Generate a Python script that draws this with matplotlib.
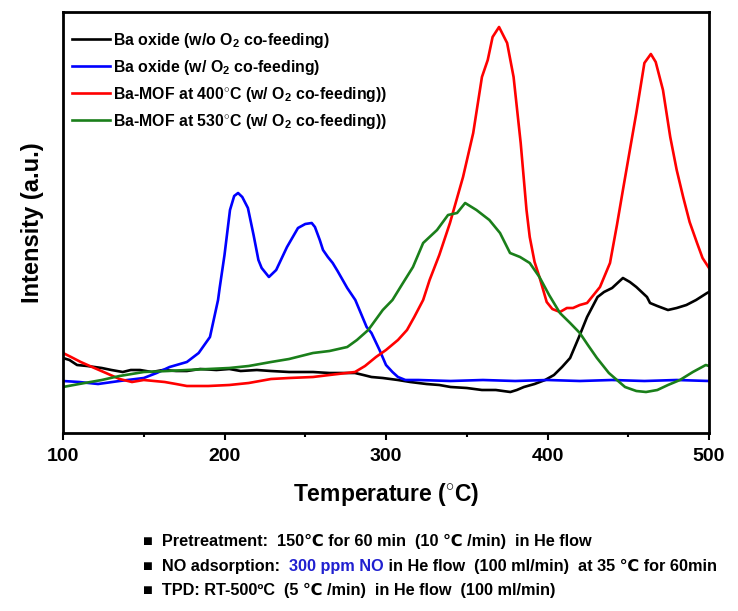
import matplotlib
matplotlib.use("Agg")
import matplotlib.pyplot as plt
import numpy as np

plt.rcParams['font.family'] = ['Liberation Sans', 'DejaVu Sans']
plt.rcParams['mathtext.fontset'] = 'custom'
plt.rcParams['mathtext.rm'] = 'Liberation Sans:bold'
plt.rcParams['mathtext.bf'] = 'Liberation Sans:bold'
plt.rcParams['mathtext.it'] = 'Liberation Sans:bold'

# ---- data (temperature in degC, intensity in a.u.) ----
Y0 = 433  # helper: intensity = Y0 - trace reading
black_T = [100, 104, 108.7, 115, 124, 130, 137, 142, 147.7, 155, 162, 170, 176.7, 185, 195, 203, 210, 220,
           228.8, 240, 254.8, 265, 275, 280.8, 286, 291, 298, 307.4, 315, 325, 333, 340, 350, 359.4, 368,
           377, 381, 385.4, 392, 398.5, 404, 409, 414, 419.5, 424.5, 431, 435, 440, 446.7, 451, 455, 461.6,
           463.5, 468, 474.6, 480, 486, 492, 498.8, 500]
black_r = [358, 360, 365, 366, 368, 370, 372, 370, 370, 372, 370, 371, 371, 369, 370, 369, 371, 370,
           371, 372, 372, 373, 373, 373, 375, 377, 378, 380, 382, 384, 385, 387, 388, 390, 390,
           392, 390, 387, 384, 380, 375, 367, 358, 337, 317, 297, 292, 288, 278, 282, 287, 297,
           303, 306, 310, 308, 305, 300, 293, 292]

blue_T = [100, 110, 121.7, 135, 150, 158, 166, 176.7, 184, 191, 196, 197, 200, 203.4, 206, 208.4, 211,
          214.5, 218, 221, 223, 227.5, 232, 238.7, 245.5, 250, 254, 256, 259, 261, 264, 267, 270, 276,
          281, 288, 291, 296, 300, 304, 307.4, 312, 320, 340, 360, 380, 400, 420, 440, 460, 480, 500]
blue_r = [381, 382, 384, 381, 378, 373, 367, 362, 353, 337, 300, 288, 255, 210, 196, 193, 197,
          208, 235, 260, 268, 277, 270, 247, 228, 224, 223, 227, 240, 250, 257, 263, 271, 288,
          300, 327, 333, 350, 365, 372, 377, 380, 380, 381, 380, 381, 380, 381, 380, 381, 380, 381]

red_T = [100, 105, 111, 118, 126.6, 135, 142.7, 150, 163, 170, 176.7, 190, 203, 215, 228.8, 240, 254.8,
         265, 280.8, 287, 293.8, 300, 307.4, 313, 317.5, 323, 327, 333, 339.6, 347.7, 354, 359.4, 363,
         366, 370, 375, 379, 383.4, 387, 389, 392, 395, 399.5, 403, 407.7, 412, 415.8, 420, 424.5, 428,
         432.5, 438.7, 443, 446.7, 451, 455, 460, 464, 467, 471.5, 476, 480, 484, 488, 492.6, 496, 500]
red_r = [353, 357, 362, 367, 373, 379, 382, 380, 382, 384, 386, 386, 385, 383, 379, 378, 377,
         375, 372, 366, 357, 350, 340, 330, 317, 300, 280, 255, 223, 177, 133, 77, 60,
         37, 27, 43, 77, 143, 210, 237, 262, 277, 302, 309, 312, 308, 308, 305, 303, 296,
         287, 263, 225, 190, 150, 113, 63, 54, 62, 90, 137, 170, 197, 222, 243, 258, 268]

green_T = [100, 110, 124, 135, 150, 165, 176.7, 190, 203, 215, 228.8, 240, 254.8, 265, 276, 282, 289,
           298, 304, 310.5, 316.7, 323, 331.6, 338.4, 344, 349, 356, 364, 370.6, 376.8, 383, 389, 395,
           401, 407.7, 414, 420, 425, 430.6, 438, 448, 455, 461, 468, 474.6, 482, 490, 498, 500]
green_r = [387, 384, 380, 376, 372, 371, 370, 369, 368, 366, 362, 359, 353, 351, 347, 340, 330,
           310, 300, 283, 267, 243, 230, 215, 213, 203, 210, 220, 233, 253, 257, 263, 277,
           295, 313, 323, 333, 345, 358, 373, 387, 391, 392, 390, 385, 380, 372, 365, 366]

labels = [r'Ba oxide (w/o O$_2$ co-feeding)',
          r'Ba oxide (w/ O$_2$ co-feeding)',
          r'Ba-MOF at 400$^{\circ}$C (w/ O$_2$ co-feeding))',
          r'Ba-MOF at 530$^{\circ}$C (w/ O$_2$ co-feeding))']
colors = ['#000000', '#0000ff', '#ff0000', '#1a7f1a']
x_ticks = [100, 200, 300, 400, 500]

series = [(black_T, black_r), (blue_T, blue_r), (red_T, red_r), (green_T, green_r)]

fig = plt.figure(figsize=(7.38, 6.11), dpi=100)
ax = fig.add_axes([63/738, 1-433/611, (709-63)/738, (433-12)/611])

for (T, r), c, lab in zip(series, colors, labels):
    ax.plot(T, Y0 - np.array(r), color=c, lw=1.9, label=lab)

ax.set_xlim(100, 500)
ax.set_ylim(0, 421)
ax.set_xticks(x_ticks)
ax.set_xticks([150, 250, 350, 450], minor=True)
ax.set_yticks([])
ax.tick_params(axis='x', which='major', direction='out', length=5, width=1.5, labelsize=14, pad=6)
ax.tick_params(axis='x', which='minor', direction='out', length=3, width=1.5)
for lbl in ax.get_xticklabels():
    lbl.set_fontweight('bold')
for s in ax.spines.values():
    s.set_linewidth(2.0)

ax.set_xlabel(r'Temperature ($^{\circ}$C)', fontsize=16.5, fontweight='bold', labelpad=11)
ax.set_ylabel('Intensity (a.u.)', fontsize=17, fontweight='bold', labelpad=14)

leg = ax.legend(loc='upper left', frameon=False, prop={'size': 11.4, 'weight': 'bold'},
                handlelength=2.4, handletextpad=0.2, labelspacing=0.5,
                bbox_to_anchor=(9/646, 0.955), borderaxespad=0, borderpad=0)

# ---- notes below the chart ----
fs = 11.7
fam = ['Liberation Sans', 'DejaVu Sans']
t1 = fig.text(143/738, 1-541/611, '■  Pretreatment:  150℃ for 60 min  (10 ℃ /min)  in He flow',
              fontsize=fs, fontweight='bold', va='center', family=fam)
t2a = fig.text(143/738, 1-566/611, '■  NO adsorption:  ', fontsize=fs, fontweight='bold', va='center', family=fam)
t2b = ax.annotate('300 ppm NO', xy=(1, 0), xycoords=t2a, va='bottom', ha='left',
                  fontsize=fs, fontweight='bold', color='#2020d0', family=fam)
t2c = ax.annotate(' in He flow  (100 ml/min)  at 35 ℃ for 60min', xy=(1, 0), xycoords=t2b,
                  va='bottom', ha='left', fontsize=fs, fontweight='bold', family=fam)
t3 = fig.text(143/738, 1-590/611, '■  TPD: RT-500ºC  (5 ℃ /min)  in He flow  (100 ml/min)',
              fontsize=fs, fontweight='bold', va='center', family=fam)

fig.savefig('out.png', dpi=100)
